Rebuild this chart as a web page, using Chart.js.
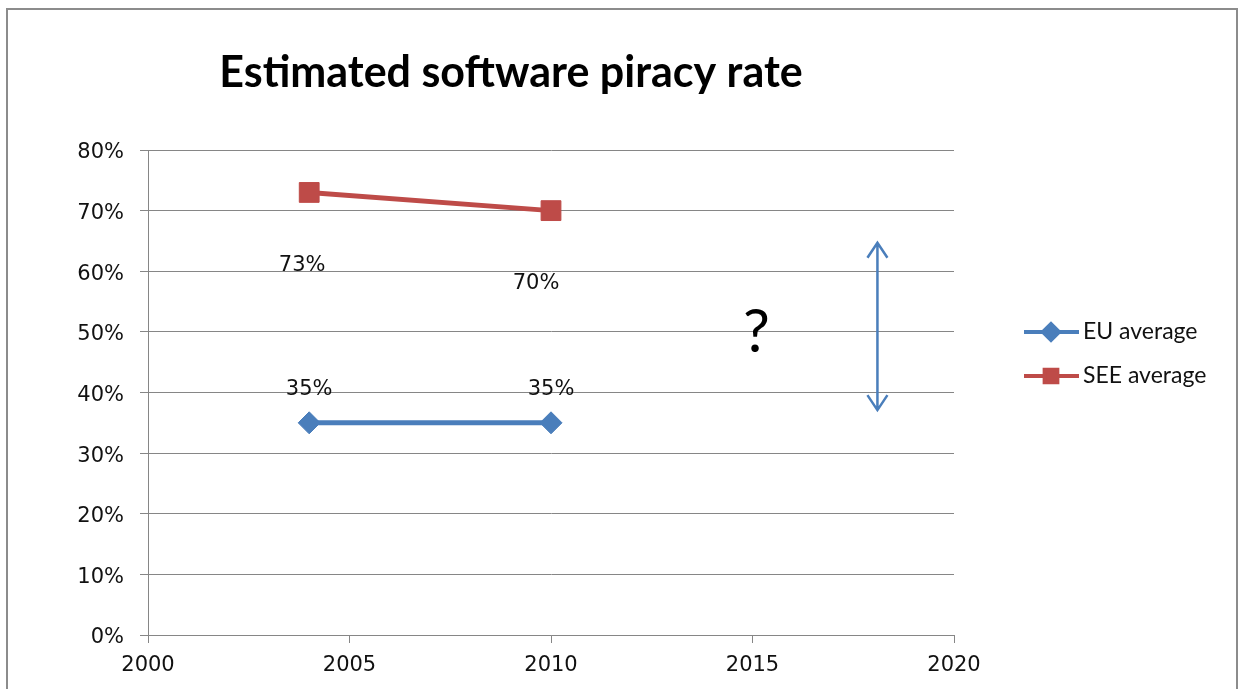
<!DOCTYPE html>
<html>
<head>
<meta charset="utf-8">
<title>Estimated software piracy rate</title>
<script src="https://cdn.jsdelivr.net/npm/chart.js@4.4.1/dist/chart.umd.min.js"></script>
<style>
    html, body { margin: 0; padding: 0; background: #fff; }
    #wrap { width: 1240px; height: 689px; position: relative; }
</style>
</head>
<body>
<div id="wrap"><canvas id="piracyChart"></canvas></div>
<script>
// Chart data
const chartTitle = 'Estimated software piracy rate';
const years = [2004, 2010];
const seriesNames = ['EU average', 'SEE average'];
const euAverage = [35, 35];
const seeAverage = [73, 70];
const xTicks = [2000, 2005, 2010, 2015, 2020];
const yTicks = [0, 10, 20, 30, 40, 50, 60, 70, 80];

// Annotation: question mark and the double arrow (in data units)
const questionMark = { text: '?', x: 2015.1, y: 49.8 };
const rangeArrow = { x: 2018.1, from: 64.7, to: 37.1 };

const BLUE = '#4A7EBB';
const RED = '#BE4B48';
const GRID = '#868686';
const TEXT = '#111';
const TICK_FONT = { family: 'DejaVu Sans', size: 21 };

// label offsets (px) relative to each point, as Excel placed them
const labelOffsets = [
    [[0, -33], [0, -33]],
    [[-7, 73], [-15, 73]]
];

const toPoints = (values) => years.map((year, i) => ({ x: year, y: values[i] }));

const decorations = {
    id: 'decorations',
    beforeDraw(chart) {
        const ctx = chart.ctx;
        ctx.save();
        ctx.fillStyle = '#fff';
        ctx.fillRect(0, 0, chart.width, chart.height);
        ctx.strokeStyle = '#8C8C8C';
        ctx.lineWidth = 2;
        ctx.strokeRect(7, 9, 1230, 700);
        ctx.restore();
    },
    afterDatasetsDraw(chart) {
        const ctx = chart.ctx;
        const xScale = chart.scales.x;
        const yScale = chart.scales.y;
        ctx.save();

        // title
        ctx.fillStyle = '#000';
        ctx.font = 'bold 43px Lato';
        ctx.textAlign = 'center';
        ctx.textBaseline = 'alphabetic';
        ctx.fillText(chartTitle, 511, 87);

        // data labels
        ctx.font = '21px "DejaVu Sans"';
        ctx.fillStyle = TEXT;
        ctx.textBaseline = 'middle';
        chart.data.datasets.forEach((ds, d) => {
            const meta = chart.getDatasetMeta(d);
            meta.data.forEach((pt, i) => {
                const [dx, dy] = labelOffsets[d][i];
                ctx.fillText(Math.round(ds.data[i].y) + '%', pt.x + dx, pt.y + dy);
            });
        });

        // question mark
        ctx.fillStyle = '#000';
        ctx.font = '60px Lato';
        ctx.textBaseline = 'middle';
        ctx.fillText(questionMark.text, xScale.getPixelForValue(questionMark.x), yScale.getPixelForValue(questionMark.y));

        // double-headed arrow
        const ax = xScale.getPixelForValue(rangeArrow.x);
        const top = yScale.getPixelForValue(rangeArrow.from);
        const bottom = yScale.getPixelForValue(rangeArrow.to);
        ctx.strokeStyle = BLUE;
        ctx.lineWidth = 2.5;
        ctx.beginPath();
        ctx.moveTo(ax, top);
        ctx.lineTo(ax, bottom);
        ctx.moveTo(ax - 10, top + 15);
        ctx.lineTo(ax, top);
        ctx.lineTo(ax + 10, top + 15);
        ctx.moveTo(ax - 10, bottom - 15);
        ctx.lineTo(ax, bottom);
        ctx.lineTo(ax + 10, bottom - 15);
        ctx.stroke();

        // legend
        const legendY = [332, 376];
        chart.data.datasets.forEach((ds, d) => {
            const y = legendY[d];
            ctx.strokeStyle = ds.borderColor;
            ctx.lineWidth = 4;
            ctx.beginPath();
            ctx.moveTo(1024, y);
            ctx.lineTo(1079, y);
            ctx.stroke();
            ctx.fillStyle = ds.backgroundColor;
            Chart.helpers.drawPoint(ctx, {
                pointStyle: ds.pointStyle,
                radius: ds.pointStyle === 'rect' ? 9 : 8,
                rotation: 0,
                borderWidth: 1
            }, 1051, y);
            ctx.fillStyle = TEXT;
            ctx.font = '23px Lato';
            ctx.textAlign = 'left';
            ctx.textBaseline = 'middle';
            ctx.fillText(ds.label, 1083, y);
        });

        ctx.restore();
    }
};

const ctx = document.getElementById('piracyChart');
new Chart(ctx, {
    type: 'scatter',
    data: {
        datasets: [{
            label: seriesNames[0],
            data: toPoints(euAverage),
            showLine: true,
            borderColor: BLUE,
            backgroundColor: BLUE,
            borderWidth: 5,
            pointStyle: 'rectRot',
            pointRadius: 11,
            pointBorderWidth: 1
        }, {
            label: seriesNames[1],
            data: toPoints(seeAverage),
            showLine: true,
            borderColor: RED,
            backgroundColor: RED,
            borderWidth: 5,
            pointStyle: 'rect',
            pointRadius: 14,
            pointBorderWidth: 1
        }]
    },
    options: {
        responsive: true,
        maintainAspectRatio: false,
        animation: false,
        layout: {
            padding: { left: 0, top: 150, right: 286, bottom: 0 }
        },
        plugins: {
            legend: { display: false },
            title: { display: false },
            tooltip: { enabled: false }
        },
        scales: {
            x: {
                type: 'linear',
                min: xTicks[0],
                max: xTicks[xTicks.length - 1],
                afterBuildTicks: (scale) => { scale.ticks = xTicks.map(v => ({ value: v })); },
                afterFit: (scale) => { scale.height = 54; },
                ticks: {
                    color: TEXT,
                    font: TICK_FONT,
                    padding: 10,
                    maxRotation: 0,
                    callback: (v) => String(v)
                },
                grid: {
                    drawOnChartArea: false,
                    drawTicks: true,
                    tickLength: 8,
                    color: GRID
                },
                border: { display: true, color: GRID }
            },
            y: {
                min: yTicks[0],
                max: yTicks[yTicks.length - 1],
                afterBuildTicks: (scale) => { scale.ticks = yTicks.map(v => ({ value: v })); },
                afterFit: (scale) => { scale.width = 148; },
                ticks: {
                    color: TEXT,
                    font: TICK_FONT,
                    padding: 16,
                    labelOffset: 3,
                    callback: (v) => v + '%'
                },
                grid: {
                    color: GRID,
                    tickLength: 8
                },
                border: { display: true, color: GRID }
            }
        }
    },
    plugins: [decorations]
});
</script>
</body>
</html>
